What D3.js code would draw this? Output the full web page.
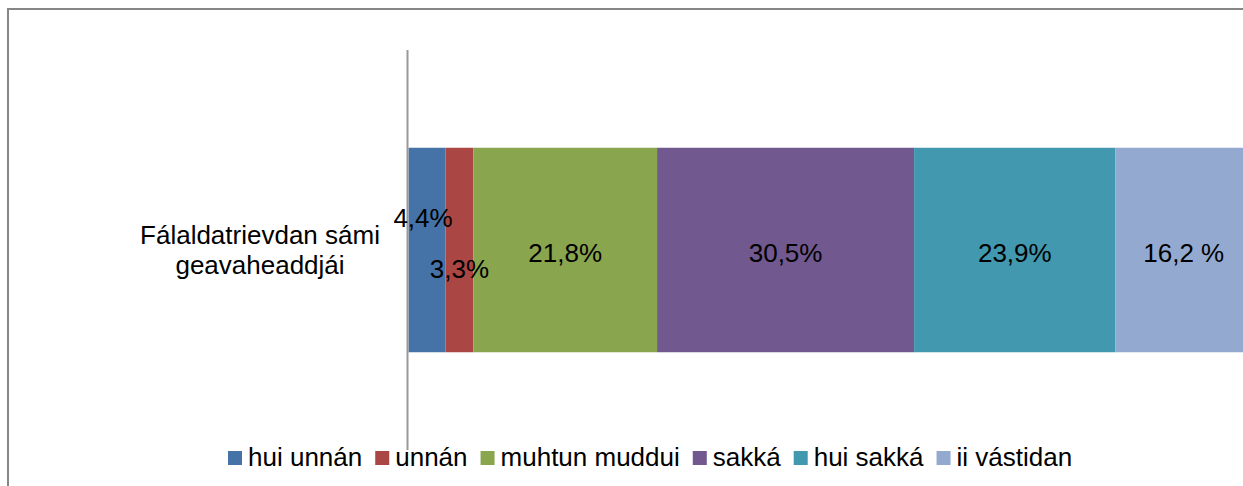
<!DOCTYPE html>
<html>
<head>
<meta charset="utf-8">
<script src="https://cdn.jsdelivr.net/npm/d3@7"></script>
<style>
	html, body { margin: 0; padding: 0; background: #fff; overflow: hidden; }
	svg { display: block; font-family: "Liberation Sans", Arial, sans-serif; }
</style>
</head>
<body>
<svg id="chart"></svg>
<script>
'use strict';

var category = ['Fálaldatrievdan sámi', 'geavaheaddjái'];
var series = ['hui unnán', 'unnán', 'muhtun muddui', 'sakká', 'hui sakká', 'ii vástidan'];
var values = [4.4, 3.3, 21.8, 30.5, 23.9, 16.2];
var labels = ['4,4%', '3,3%', '21,8%', '30,5%', '23,9%', '16,2 %'];
var colors = ['#4572a7', '#aa4643', '#89a54e', '#71588f', '#4198af', '#93a9cf'];
// label shifts (Excel moved the two small ones apart)
var labelDx = [-4, 0, 0, 0, 0, 0];
var labelDy = [-23, 28, 12, 12, 12, 12];

var width = 1243,
	height = 486,
	svg = d3.select('svg#chart').attr('width', width).attr('height', height);

// outer chart border (only top and left visible)
svg.append('line').attr('x1', 8).attr('y1', 9).attr('x2', width).attr('y2', 9)
	.attr('stroke', '#878787').attr('stroke-width', 2);
svg.append('line').attr('x1', 8).attr('y1', 8).attr('x2', 8).attr('y2', height)
	.attr('stroke', '#878787').attr('stroke-width', 2);

var stacked = [], acc = 0;
values.forEach(function(v, i) {
	stacked.push({ i: i, x0: acc, x1: acc + v });
	acc += v;
});

var x = d3.scaleLinear().domain([0, 100.1]).range([408.5, 1252]);
var y = d3.scaleBand().domain([category.join(' ')]).range([50, 450]).paddingInner(0.4875).paddingOuter(0.245);
var yc = y(category.join(' '));

svg.append('g').selectAll('rect').data(stacked).enter()
	.append('rect')
	.attr('x', function(d) { return x(d.x0); })
	.attr('y', yc)
	.attr('width', function(d) { return x(d.x1) - x(d.x0); })
	.attr('height', y.bandwidth())
	.attr('fill', function(d) { return colors[d.i]; });

// category axis line
svg.append('line').attr('x1', 407.5).attr('x2', 407.5).attr('y1', 50).attr('y2', 450)
	.attr('stroke', '#999').attr('stroke-width', 2);

var mid = yc + y.bandwidth() / 2;

svg.append('g').selectAll('text').data(stacked).enter()
	.append('text')
	.attr('x', function(d) { return (x(d.x0) + x(d.x1)) / 2 + labelDx[d.i]; })
	.attr('y', function(d) { return mid + labelDy[d.i]; })
	.attr('text-anchor', 'middle')
	.attr('font-size', 26)
	.attr('fill', '#000')
	.text(function(d) { return labels[d.i]; });

var cat = svg.append('text').attr('text-anchor', 'middle').attr('font-size', 26).attr('fill', '#000');
category.forEach(function(line, i) {
	cat.append('tspan').attr('x', 260).attr('y', mid - 6 + i * 30).text(line);
});

// legend
var legend = svg.append('g');
var lx = 228;
series.forEach(function(name, i) {
	legend.append('rect').attr('x', lx).attr('y', 451).attr('width', 14).attr('height', 14)
		.attr('fill', colors[i]);
	var t = legend.append('text').attr('x', lx + 20).attr('y', 466)
		.attr('font-size', 26).attr('fill', '#000').text(name);
	lx += 20 + t.node().getComputedTextLength() + 13;
});
</script>
</body>
</html>
